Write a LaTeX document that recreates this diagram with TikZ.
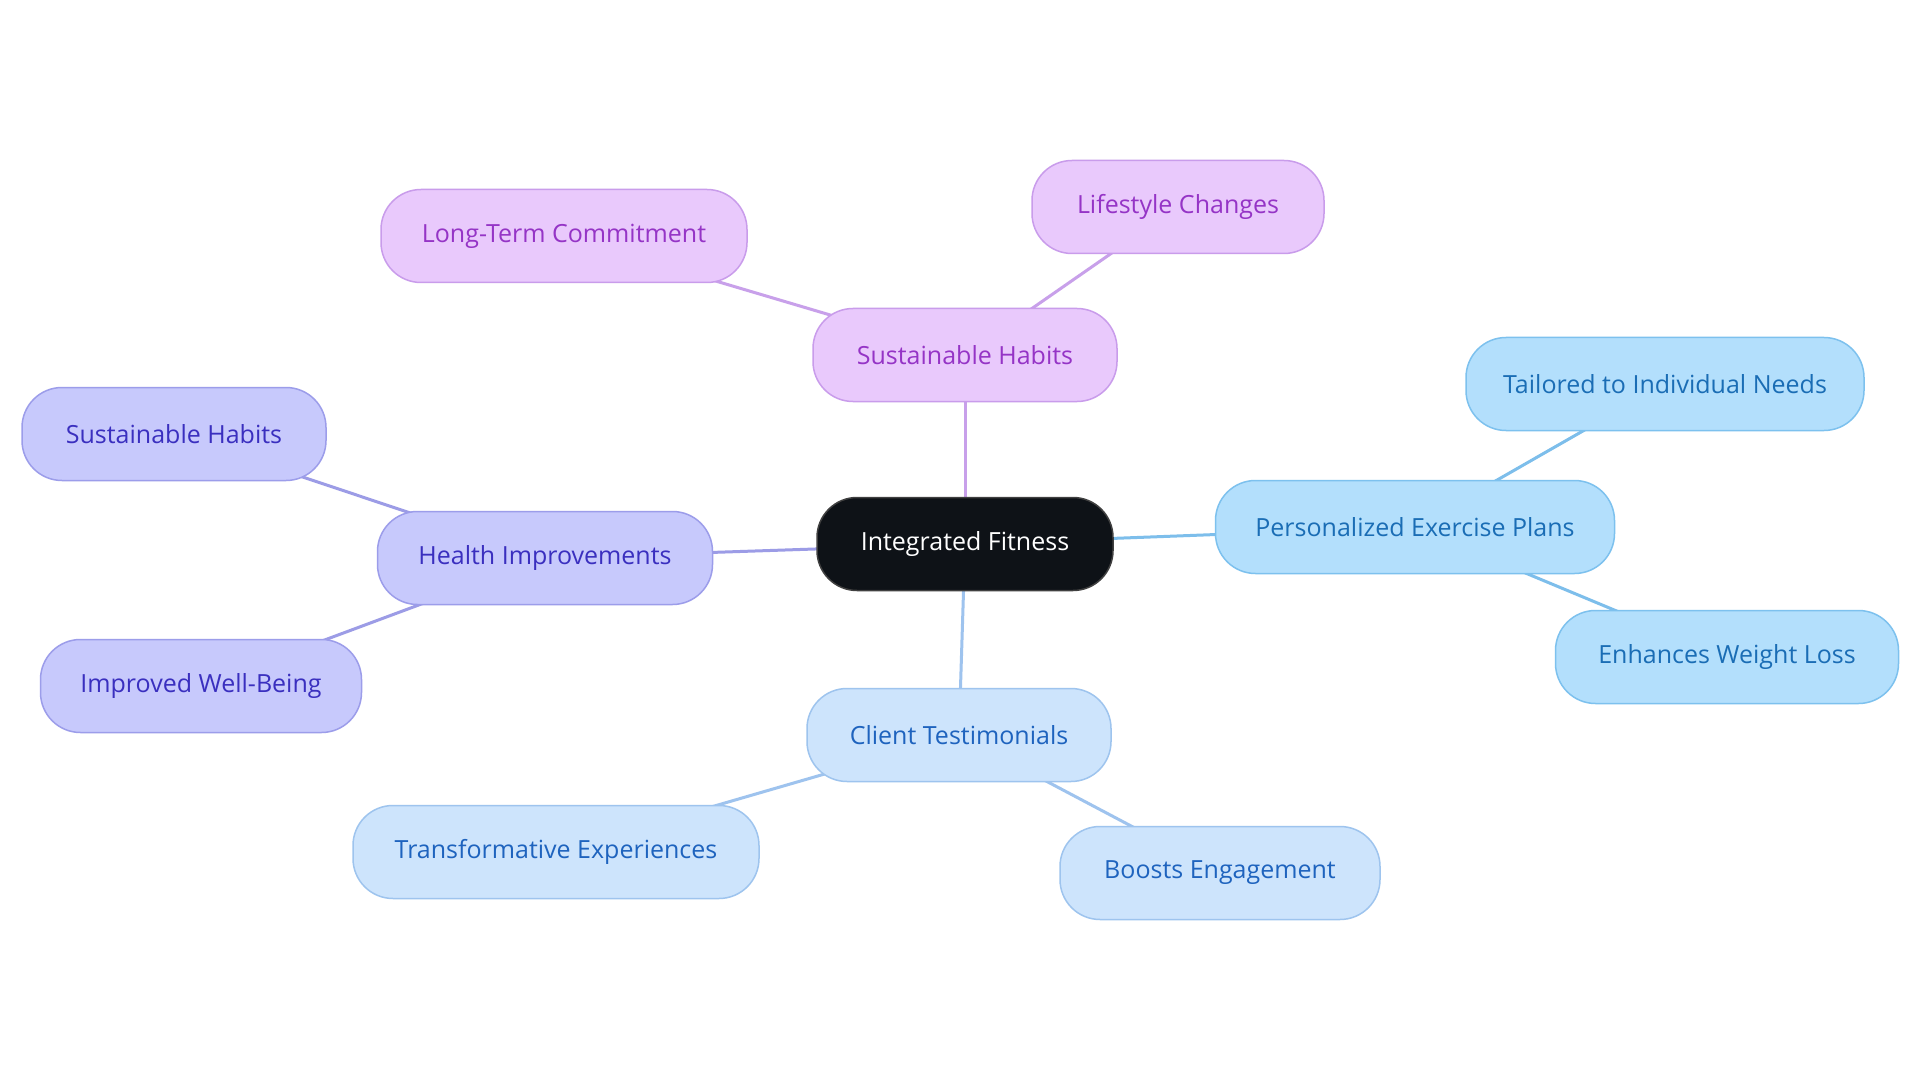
\documentclass[tikz,border=0pt]{standalone}
\usepackage{fontspec}
\setmainfont{Open Sans}
\usetikzlibrary{backgrounds}
\definecolor{pfill}{HTML}{E9C9FC}
\definecolor{pdraw}{HTML}{C99CEB}
\definecolor{ptext}{HTML}{9534C6}
\definecolor{pline}{HTML}{C8A0EA}
\definecolor{vfill}{HTML}{C7C9FC}
\definecolor{vdraw}{HTML}{9C9DEA}
\definecolor{vtext}{HTML}{3A2FBF}
\definecolor{vline}{HTML}{9C9CE6}
\definecolor{bfill}{HTML}{B3DFFC}
\definecolor{bdraw}{HTML}{7DC1EE}
\definecolor{btext}{HTML}{1A6DB5}
\definecolor{bline}{HTML}{7DBEEB}
\definecolor{cfill}{HTML}{CDE4FC}
\definecolor{cdraw}{HTML}{9EC4EE}
\definecolor{ctext}{HTML}{1E63BE}
\definecolor{cline}{HTML}{9EC3EE}
\definecolor{dfill}{HTML}{0E1217}
\tikzset{
  box/.style={rounded corners=40pt, minimum height=93pt, line width=1.5pt, inner sep=0pt,
    font=\fontsize{25}{30}\selectfont},
  pbox/.style={box, fill=pfill, draw=pdraw, text=ptext},
  vbox/.style={box, fill=vfill, draw=vdraw, text=vtext},
  bbox/.style={box, fill=bfill, draw=bdraw, text=btext},
  cbox/.style={box, fill=cfill, draw=cdraw, text=ctext},
  dbox/.style={box, fill=dfill, draw=black!75, text=white},
  edge/.style={line width=3pt},
}
\begin{document}
\begin{tikzpicture}[x=1pt,y=-1pt]
\useasboundingbox (0,0) rectangle (1920,1083);
\node[dbox, minimum width=296pt] (root) at (965,544) {Integrated Fitness};
\node[pbox, minimum width=304pt] (sh) at (965,355) {Sustainable Habits};
\node[pbox, minimum width=292pt] (lc) at (1178,207) {Lifestyle Changes};
\node[pbox, minimum width=366pt] (lt) at (564,236) {Long-Term Commitment};
\node[vbox, minimum width=335pt] (hi) at (545,558) {Health Improvements};
\node[vbox, minimum width=304pt] (sh2) at (174,434) {Sustainable Habits};
\node[vbox, minimum width=321pt] (iw) at (201,686) {Improved Well-Being};
\node[bbox, minimum width=399pt] (pe) at (1415,527) {Personalized Exercise Plans};
\node[bbox, minimum width=398pt] (ti) at (1665,384) {Tailored to Individual Needs};
\node[bbox, minimum width=343pt] (ew) at (1727,657) {Enhances Weight Loss};
\node[cbox, minimum width=304pt] (ct) at (959,735) {Client Testimonials};
\node[cbox, minimum width=406pt] (te) at (556,852) {Transformative Experiences};
\node[cbox, minimum width=320pt] (be) at (1220,873) {Boosts Engagement};
\begin{scope}[on background layer]
\fill[white] (0,0) rectangle (1920,1083);
\draw[edge, pline] (root.center) -- (sh.center);
\draw[edge, pline] (sh.center) -- (lc.center);
\draw[edge, pline] (sh.center) -- (lt.center);
\draw[edge, vline] (root.center) -- (hi.center);
\draw[edge, vline] (hi.center) -- (sh2.center);
\draw[edge, vline] (hi.center) -- (iw.center);
\draw[edge, bline] (root.center) -- (pe.center);
\draw[edge, bline] (pe.center) -- (ti.center);
\draw[edge, bline] (pe.center) -- (ew.center);
\draw[edge, cline] (root.center) -- (ct.center);
\draw[edge, cline] (ct.center) -- (te.center);
\draw[edge, cline] (ct.center) -- (be.center);
\end{scope}
\end{tikzpicture}
\end{document}
